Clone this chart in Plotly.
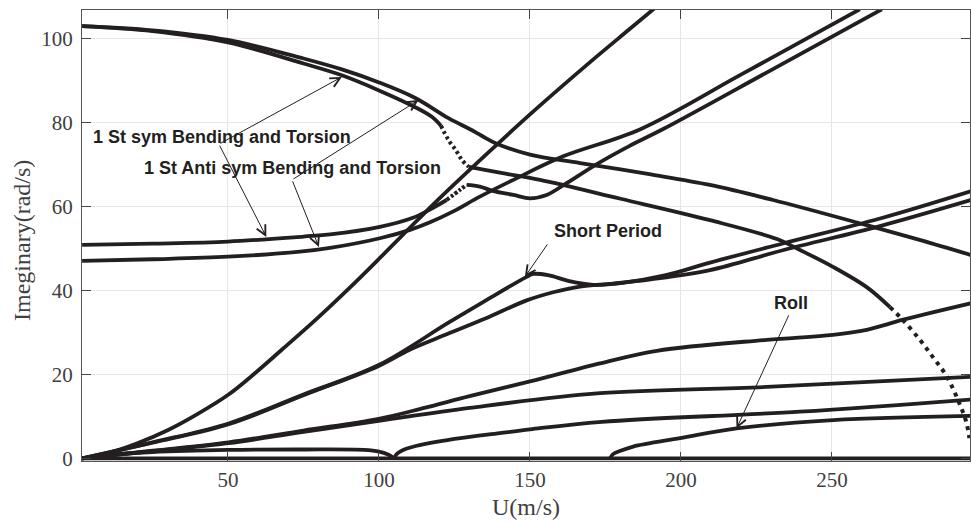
import plotly.graph_objects as go

# ---------------- data ----------------
# upper branch of the top pair (smooth, ends ~48 at right)
top_a_u = [1.7, 25, 50, 75, 87.7, 100, 112, 123, 130, 134, 139, 150, 166.6, 190, 209.6, 230.5, 260, 279, 296]
top_a_y = [102.9, 101.9, 99.6, 95.2, 92.6, 89.5, 85.8, 81.0, 78.4, 76.8, 74.9, 72.3, 70.3, 67.6, 65.1, 61.5, 55.8, 52.0, 48.4]

# lower branch of the top pair (dotted drop, then long descent to 0)
top_b1_u = [1.7, 25, 50, 75, 87.7, 100, 112, 117.5, 120.5]
top_b1_y = [102.9, 101.7, 99.0, 94.0, 91.2, 87.6, 83.6, 81.3, 79.2]
top_b2_u = [120.5, 123, 125.5, 127.5, 129.7]
top_b2_y = [79.2, 75.8, 73.3, 71.0, 69.4]
top_b3_u = [129.7, 140, 153.3, 180, 209.6, 231.8, 239.4, 250.3, 261.6, 269.2]
top_b3_y = [69.4, 68.0, 66.3, 61.8, 56.7, 52.2, 49.6, 45.6, 40.7, 36.0]
top_b4_u = [269.2, 273.5, 279.1, 283.4, 288.1, 292.4, 293.5, 294.6, 295.5]
top_b4_y = [36.0, 32.9, 28.2, 24.1, 19.4, 12.7, 10.7, 8.3, 4.8]

# steep branch from the origin
steep_u = [1.7, 10, 20, 30, 40, 50.2, 59, 67.9, 78.9, 90, 100.3, 109, 119, 130, 144.5, 150, 170, 183, 192]
steep_y = [0, 1.2, 3.6, 6.7, 10.6, 15.2, 20.3, 25.9, 32.9, 40.4, 47.7, 54.0, 61.2, 68.7, 78.3, 81.9, 94.4, 102.2, 107.6]

# 1st symmetric bending/torsion (starts ~50.8)
sym1_u = [1.7, 25, 50, 75, 83.8, 100.3, 111, 117, 122.4]
sym1_y = [50.8, 51.1, 51.6, 52.8, 53.3, 55.1, 57.2, 59.3, 61.5]
sym2_u = [122.4, 126.8, 129]
sym2_y = [61.5, 63.9, 65.1]
sym3_u = [129, 133.4, 138, 144.5, 150, 155.5, 162.1, 172, 183, 194.1, 230, 266.5]
sym3_y = [65.1, 64.7, 63.6, 62.7, 61.9, 62.7, 65.5, 70.0, 74.4, 78.4, 92.5, 106.9]

# 1st anti-symmetric bending/torsion (starts ~47)
anti_u = [1.7, 25, 50, 73.8, 83.8, 100.3, 110.3, 116.9, 124.6, 133.4, 144.5, 161, 186.4, 220, 259.2]
anti_y = [47.0, 47.4, 48.0, 49.2, 50.1, 52.4, 54.4, 56.2, 58.8, 62.3, 66.3, 71.9, 78.3, 91.4, 106.9]

# short period pair
spa_u = [1.7, 25, 50.2, 75, 99.9, 123, 136.8, 148.9, 151, 156, 163, 171, 180, 195, 209.6, 234, 265.9, 296]
spa_y = [0, 3.8, 8.3, 15.2, 22.2, 32.3, 38.2, 43.2, 43.9, 43.6, 42.2, 41.3, 41.7, 43.6, 46.6, 51.2, 57.1, 63.6]
spb_u = [1.7, 25, 50.2, 75, 99.9, 110, 122, 135, 148.9, 158, 166.6, 177.5, 190, 209.6, 234, 265.9, 296]
spb_y = [0, 3.7, 8.1, 15.0, 22.0, 25.8, 29.4, 33.2, 37.6, 39.6, 40.9, 41.6, 42.6, 44.8, 49.6, 55.3, 61.5]

# lower fan
l1_u = [1.7, 25, 50.2, 75, 99.9, 115, 130, 150, 173.2, 192, 228.4, 250.3, 261.5, 273.6, 296]
l1_y = [0, 1.8, 3.8, 6.6, 9.4, 12.0, 14.8, 18.3, 22.6, 25.6, 28.2, 29.4, 30.6, 33.0, 36.9]
l2_u = [1.7, 25, 50.2, 75, 99.9, 130, 173.2, 228.4, 296]
l2_y = [0, 1.7, 3.6, 6.3, 8.9, 12.0, 15.5, 17.0, 19.4]
l3_u = [1.7, 10, 25, 50, 75, 95, 100, 103, 105]
l3_y = [0, 0.8, 1.5, 2.0, 2.1, 2.0, 1.6, 0.9, 0]
l4_u = [105, 106, 108, 111, 125, 140, 150, 173.8, 239.4, 296]
l4_y = [0, 1.1, 2.0, 2.7, 4.6, 6.0, 6.9, 8.7, 11.1, 14.0]
roll_u = [176.5, 177.5, 180, 184.2, 199.7, 218.4, 250.4, 296]
roll_y = [0, 1.0, 1.8, 2.8, 4.8, 7.1, 9.1, 10.1]
zero_u = [1.7, 296]
zero_y = [0, 0]

x_ticks = [50, 100, 150, 200, 250]
y_ticks = [0, 20, 40, 60, 80, 100]

# ---------------- figure ----------------
INK = "#231f20"
fig = go.Figure()

solid = [(top_a_u, top_a_y), (top_b1_u, top_b1_y), (top_b3_u, top_b3_y),
         (steep_u, steep_y), (sym1_u, sym1_y), (sym3_u, sym3_y), (anti_u, anti_y),
         (spa_u, spa_y), (spb_u, spb_y), (l1_u, l1_y), (l2_u, l2_y),
         (l3_u, l3_y), (l4_u, l4_y), (roll_u, roll_y), (zero_u, zero_y)]
for u, y in solid:
    fig.add_trace(go.Scatter(x=u, y=y, mode="lines",
                             line=dict(color=INK, width=3.8, shape="spline", smoothing=1.0),
                             hoverinfo="skip", showlegend=False))

dotted = [((top_b2_u, top_b2_y), "3px,3px"), ((sym2_u, sym2_y), "3px,2px"),
          ((top_b4_u, top_b4_y), "4px,5px")]
for (u, y), d in dotted:
    fig.add_trace(go.Scatter(x=u, y=y, mode="lines",
                             line=dict(color=INK, width=4, shape="spline", smoothing=1.0, dash=d),
                             hoverinfo="skip", showlegend=False))

ann_font = dict(family="Liberation Sans, Arial, sans-serif", size=18, color=INK)
labels = [("1 St sym Bending and Torsion", 48.0, 76.6),
          ("1 St Anti sym Bending and Torsion", 71.2, 69.1),
          ("Short Period", 175.7, 54.1),
          ("Roll", 236.3, 36.9)]
annotations = []
for t, x, y in labels:
    annotations.append(dict(text="<b>%s</b>" % t, x=x, y=y, xref="x", yref="y",
                            showarrow=False, xanchor="center", yanchor="middle", font=ann_font))

arrows = [((47.0, 74.8), (87.7, 90.8)), ((47.0, 74.8), (62.7, 52.7)),
          ((71.2, 66.3), (113.1, 85.3)), ((71.2, 66.3), (80.1, 50.3)),
          ((156.1, 51.3), (148.3, 43.2)), ((235.9, 34.4), (218.4, 7.1))]
for (tx, ty), (hx, hy) in arrows:
    annotations.append(dict(text="", x=hx, y=hy, ax=tx, ay=ty, xref="x", yref="y",
                            axref="x", ayref="y", showarrow=True, arrowhead=5,
                            arrowsize=1.9, arrowwidth=1, arrowcolor=INK, standoff=0))

title_font = dict(family="Liberation Serif, Times New Roman, serif", size=24, color="#404040")
annotations.append(dict(text="U(m/s)", x=0.5, y=-0.102, xref="paper", yref="paper",
                        showarrow=False, xanchor="center", yanchor="middle", font=title_font))
annotations.append(dict(text="Imeginary(rad/s)", x=-0.0676, y=0.49, xref="paper", yref="paper",
                        showarrow=False, xanchor="center", yanchor="middle", textangle=-90,
                        font=title_font))

tick_font = dict(family="Liberation Serif, Times New Roman, serif", size=21, color="#404040")
axis_common = dict(showline=True, linecolor="#555555", linewidth=1, mirror="ticks",
                   ticks="inside", ticklen=9, tickcolor="#444444", tickwidth=1,
                   showgrid=True, gridcolor="#e6e6e6", gridwidth=1, zeroline=False,
                   tickfont=tick_font)

fig.update_layout(
    width=971, height=524,
    margin=dict(l=82, r=1, t=10, b=63),
    paper_bgcolor="white", plot_bgcolor="white",
    xaxis=dict(range=[1.66, 295.7], tickvals=x_ticks, **axis_common),
    yaxis=dict(range=[-0.64, 106.74], tickvals=y_ticks, ticklabelstandoff=4, **axis_common),
    annotations=annotations,
    showlegend=False,
)

fig.write_html("out.html")
